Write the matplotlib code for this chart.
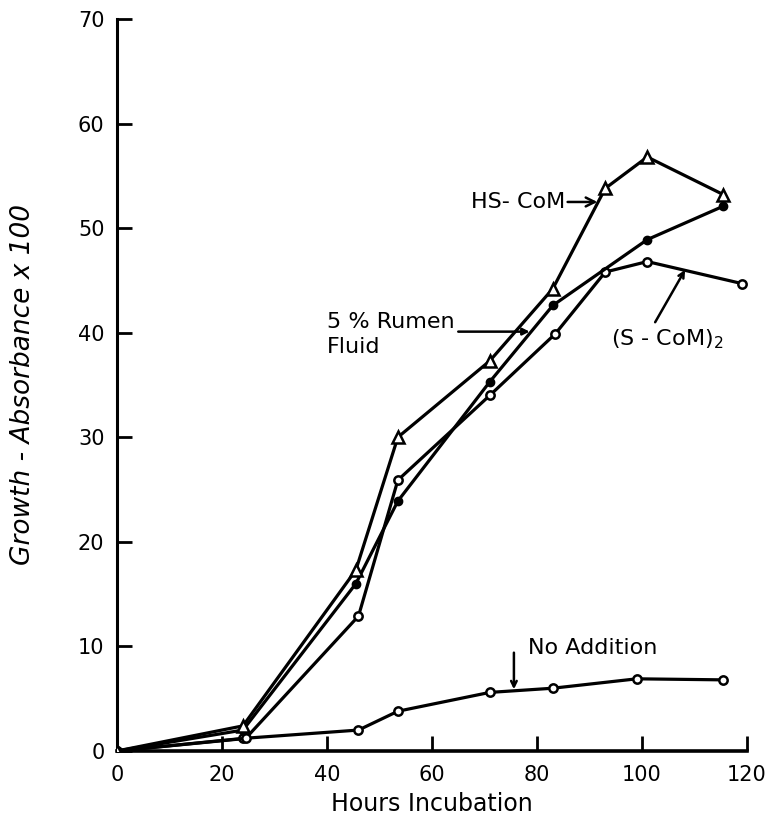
import matplotlib
matplotlib.use("Agg")
import matplotlib.pyplot as plt

# (hours, absorbance x 100)
hs_hours = [0, 24, 45.5, 53.5, 71, 83, 93, 101, 115.5]
hs_vals = [0, 2.4, 17.3, 30.0, 37.3, 44.2, 53.8, 56.8, 53.2]

rumen_hours = [0, 24, 45.5, 53.5, 71, 83, 101, 115.5]
rumen_vals = [0, 2.0, 16.0, 23.9, 35.3, 42.6, 48.9, 52.1]

scom_hours = [0, 24.5, 46, 53.5, 71, 83.5, 93, 101, 119]
scom_vals = [0, 1.2, 12.9, 25.9, 34.0, 39.9, 45.8, 46.8, 44.7]

none_hours = [0, 24, 46, 53.5, 71, 83, 99, 115.5]
none_vals = [0, 1.2, 2.0, 3.8, 5.6, 6.0, 6.9, 6.8]

xticks = [0, 20, 40, 60, 80, 100, 120]
yticks = [0, 10, 20, 30, 40, 50, 60, 70]

plt.rcParams['font.family'] = ['DejaVu Sans']

fig = plt.figure(figsize=(7.68, 8.21), dpi=100)
ax = fig.add_axes([0.1523, 0.0853, 0.8204, 0.8916])

lw = 2.3
ax.plot(none_hours, none_vals, color='black', lw=lw, marker='o', ms=6,
        mfc='white', mec='black', mew=1.8, zorder=3)
ax.plot(scom_hours, scom_vals, color='black', lw=lw, marker='o', ms=6,
        mfc='white', mec='black', mew=1.8, zorder=3)
ax.plot(rumen_hours, rumen_vals, color='black', lw=lw, marker='o', ms=6,
        mfc='black', mec='black', zorder=3)
ax.plot(hs_hours, hs_vals, color='black', lw=lw, marker='^', ms=9,
        mfc='white', mec='black', mew=1.8, zorder=4)

ax.set_xlim(0, 120)
ax.set_ylim(0, 70)
ax.set_xticks(xticks)
ax.set_yticks(yticks)
ax.spines['top'].set_visible(False)
ax.spines['right'].set_visible(False)
ax.spines['left'].set_linewidth(2.2)
ax.spines['bottom'].set_linewidth(2.6)
ax.tick_params(direction='in', length=11, width=2, labelsize=15, pad=10)
ax.tick_params(axis='y', pad=9)

ax.set_xlabel('Hours Incubation', fontsize=17, labelpad=5)
ax.set_ylabel('Growth - Absorbance x 100', fontsize=19, style='italic', labelpad=30)

arrow = dict(arrowstyle='->', color='black', lw=1.8, shrinkA=0, shrinkB=0)
ax.annotate('HS- CoM', xy=(91.5, 52.5), xytext=(85.3, 52.5), fontsize=16,
            ha='right', va='center', arrowprops=arrow)

ax.text(40, 41.0, '5 % Rumen', fontsize=16, ha='left', va='center')
ax.text(40, 38.6, 'Fluid', fontsize=16, ha='left', va='center')
ax.annotate('', xy=(78.6, 40.1), xytext=(65.0, 40.1),
            arrowprops=dict(arrowstyle='-|>', color='black', lw=1.8,
                            shrinkA=0, shrinkB=0, mutation_scale=10))

ax.text(94, 39.4, '(S - CoM)$_2$', fontsize=16, ha='left', va='center')
ax.annotate('', xy=(108.2, 46.0), xytext=(102.5, 41.0), arrowprops=arrow)

ax.annotate('', xy=(75.6, 5.9), xytext=(75.6, 9.4), arrowprops=arrow)
ax.text(78.3, 9.8, 'No Addition', fontsize=16, ha='left', va='center')

fig.savefig('out.png', dpi=100)
